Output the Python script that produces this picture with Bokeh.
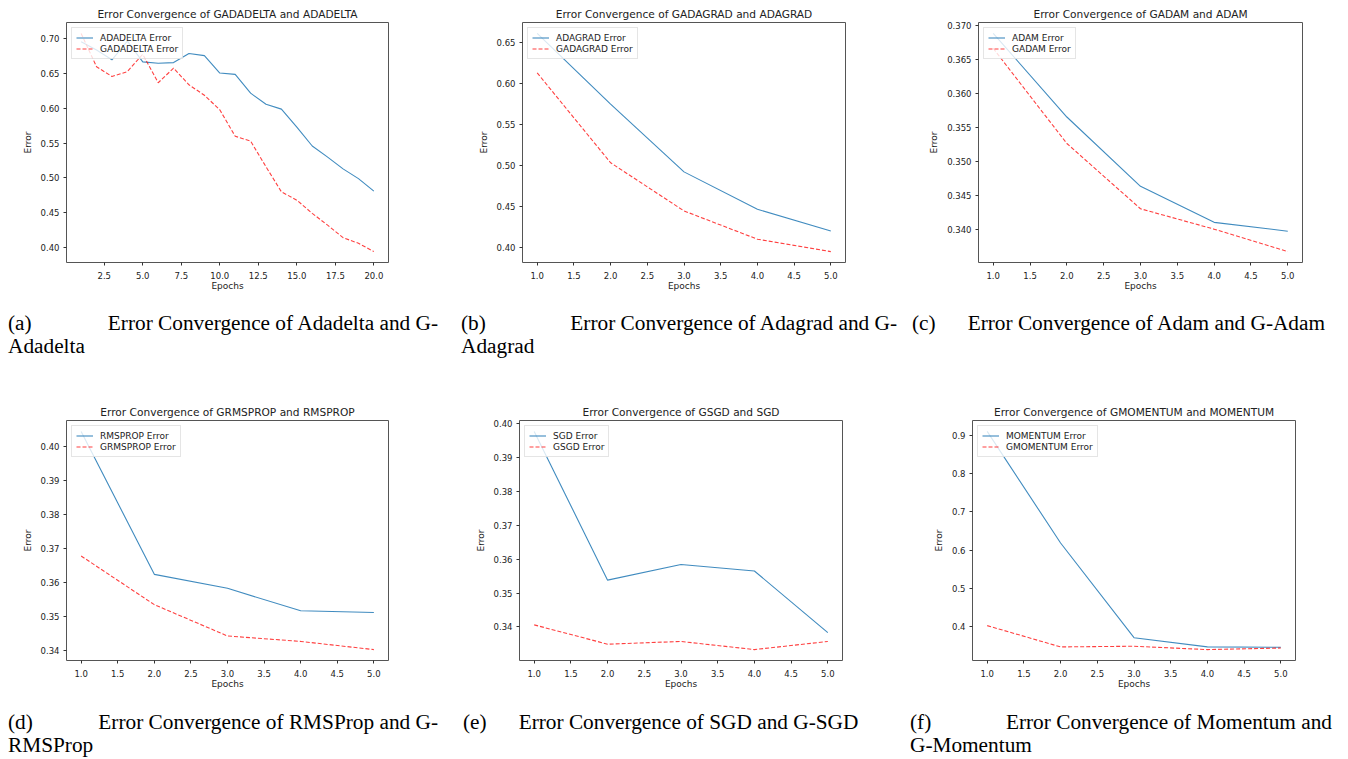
from bokeh.plotting import figure
from bokeh.models import Range1d, FixedTicker, NumeralTickFormatter, Legend, LegendItem, Div
from bokeh.layouts import row, column
from bokeh.embed import file_html
from bokeh.resources import INLINE

# ---------------- data ----------------
epochs_20 = list(range(1, 21))
epochs_5 = [1, 2, 3, 4, 5]

adadelta = [0.696, 0.684, 0.670, 0.697, 0.667, 0.665, 0.666, 0.679, 0.676, 0.651,
            0.649, 0.622, 0.606, 0.599, 0.573, 0.546, 0.530, 0.513, 0.499, 0.481]
gadadelta = [0.708, 0.660, 0.646, 0.653, 0.678, 0.637, 0.658, 0.634, 0.619, 0.598,
             0.560, 0.553, 0.516, 0.480, 0.468, 0.449, 0.432, 0.414, 0.406, 0.394]
adagrad = [0.661, 0.575, 0.4925, 0.447, 0.4205]
gadagrad = [0.613, 0.5036, 0.445, 0.4106, 0.3955]
adam = [0.3688, 0.3565, 0.3463, 0.3410, 0.3397]
gadam = [0.3666, 0.3526, 0.3430, 0.3400, 0.3367]
rmsprop = [0.4045, 0.3625, 0.3584, 0.3518, 0.3513]
grmsprop = [0.3679, 0.3536, 0.3444, 0.3428, 0.3404]
sgd = [0.3977, 0.3538, 0.3584, 0.3565, 0.3383]
gsgd = [0.3406, 0.3349, 0.3357, 0.3333, 0.3357]
momentum = [0.910, 0.619, 0.372, 0.348, 0.347]
gmomentum = [0.4035, 0.348, 0.3497, 0.341, 0.345]

# tick values
xticks_20 = [2.5, 5.0, 7.5, 10.0, 12.5, 15.0, 17.5, 20.0]
xticks_5 = [1.0, 1.5, 2.0, 2.5, 3.0, 3.5, 4.0, 4.5, 5.0]
yticks_a = [0.40, 0.45, 0.50, 0.55, 0.60, 0.65, 0.70]
yticks_b = [0.40, 0.45, 0.50, 0.55, 0.60, 0.65]
yticks_c = [0.340, 0.345, 0.350, 0.355, 0.360, 0.365, 0.370]
yticks_d = [0.34, 0.35, 0.36, 0.37, 0.38, 0.39, 0.40]
yticks_e = [0.34, 0.35, 0.36, 0.37, 0.38, 0.39, 0.40]
yticks_f = [0.4, 0.5, 0.6, 0.7, 0.8, 0.9]

titles = [
    "Error Convergence of GADADELTA and ADADELTA",
    "Error Convergence of GADAGRAD and ADAGRAD",
    "Error Convergence of GADAM and ADAM",
    "Error Convergence of GRMSPROP and RMSPROP",
    "Error Convergence of GSGD and SGD",
    "Error Convergence of GMOMENTUM and MOMENTUM",
]
legend_names = [
    ("ADADELTA Error", "GADADELTA Error"),
    ("ADAGRAD Error", "GADAGRAD Error"),
    ("ADAM Error", "GADAM Error"),
    ("RMSPROP Error", "GRMSPROP Error"),
    ("SGD Error", "GSGD Error"),
    ("MOMENTUM Error", "GMOMENTUM Error"),
]

BLUE = "#1f77b4"
RED = "#ff0000"
TXT = "#222222"
FONT = "DejaVu Sans"


def make_plot(title, x, yb, yr, names, xticks, yticks, xfmt, yfmt, bl, fw, br):
    xmin, xmax = min(x), max(x)
    xm = 0.05 * (xmax - xmin)
    lo = min(min(yb), min(yr))
    hi = max(max(yb), max(yr))
    ym = 0.05 * (hi - lo)
    p = figure(frame_width=fw, frame_height=240,
               min_border_left=bl, min_border_right=br,
               min_border_top=15, min_border_bottom=42,
               x_range=Range1d(xmin - xm, xmax + xm),
               y_range=Range1d(lo - ym, hi + ym),
               output_backend="svg", toolbar_location=None,
               title=title)
    p.title.text_font = FONT
    p.title.text_font_size = "10.6px"
    p.title.text_font_style = "normal"
    p.title.text_color = TXT
    p.title.align = "center"
    p.title.standoff = 5

    p.xgrid.visible = False
    p.ygrid.visible = False
    p.outline_line_color = "#555555"
    p.outline_line_width = 1

    p.xaxis.ticker = FixedTicker(ticks=xticks)
    p.yaxis.ticker = FixedTicker(ticks=yticks)
    p.xaxis.formatter = NumeralTickFormatter(format=xfmt)
    p.yaxis.formatter = NumeralTickFormatter(format=yfmt)
    p.xaxis.axis_label = "Epochs"
    p.yaxis.axis_label = "Error"
    for ax in (p.xaxis, p.yaxis):
        ax.axis_line_color = None
        ax.major_tick_out = 3
        ax.major_tick_in = 0
        ax.minor_tick_line_color = None
        ax.major_tick_line_color = "#333333"
        ax.major_label_text_font = FONT
        ax.major_label_text_font_size = "8.5px"
        ax.major_label_text_color = TXT
        ax.major_label_standoff = 4
        ax.axis_label_text_font = FONT
        ax.axis_label_text_font_size = "9px"
        ax.axis_label_text_font_style = "normal"
        ax.axis_label_text_color = TXT
    p.xaxis.major_label_standoff = 6
    p.xaxis.axis_label_standoff = -1
    p.yaxis.axis_label_standoff = 5

    r1 = p.line(x, yb, line_color=BLUE, line_alpha=0.85, line_width=1.1)
    r2 = p.line(x, yr, line_color=RED, line_alpha=0.75, line_width=1.1, line_dash="4 2")

    leg = Legend(items=[LegendItem(label=names[0], renderers=[r1]),
                        LegendItem(label=names[1], renderers=[r2])],
                 location="top_left")
    leg.margin = 5
    leg.padding = 4
    leg.spacing = 0
    leg.label_height = 11
    leg.glyph_height = 11
    leg.glyph_width = 17
    leg.label_standoff = 7
    leg.label_text_font = FONT
    leg.label_text_font_size = "9px"
    leg.label_text_color = TXT
    leg.border_line_color = "#cccccc"
    leg.border_line_width = 1
    leg.background_fill_alpha = 0.8
    p.add_layout(leg)
    return p


pa = make_plot(titles[0], epochs_20, adadelta, gadadelta, legend_names[0], xticks_20, yticks_a, "0.0", "0.00", 58, 322, 68)
pb = make_plot(titles[1], epochs_5, adagrad, gadagrad, legend_names[1], xticks_5, yticks_b, "0.0", "0.00", 66, 323, 59)
pc = make_plot(titles[2], epochs_5, adam, gadam, legend_names[2], xticks_5, yticks_c, "0.0", "0.000", 74, 324, 38)
pd = make_plot(titles[3], epochs_5, rmsprop, grmsprop, legend_names[3], xticks_5, yticks_d, "0.0", "0.00", 58, 322, 68)
pe = make_plot(titles[4], epochs_5, sgd, gsgd, legend_names[4], xticks_5, yticks_e, "0.0", "0.00", 63, 323, 62)
pf = make_plot(titles[5], epochs_5, momentum, gmomentum, legend_names[5], xticks_5, yticks_f, "0.0", "0.0", 68, 323, 45)


def cap_style(lh):
    return f"font-family:'Liberation Serif';font-size:21.3px;line-height:{lh}px;color:#000;"


def cap_two(label, first, second, pad_left, width, pad_top, lh):
    return (f"<div style=\"{cap_style(lh)}padding:{pad_top}px 0 0 {pad_left}px;\">"
            f"<div style=\"display:flex;justify-content:space-between;width:{width}px;white-space:nowrap;\">"
            f"<span>{label}</span><span>{first}</span></div>"
            f"<div style=\"white-space:nowrap;\">{second}</div></div>")


def cap_one(label, text, pad_left, gap, pad_top, lh):
    return (f"<div style=\"{cap_style(lh)}padding:{pad_top}px 0 0 {pad_left}px;white-space:nowrap;\">"
            f"<span>{label}</span><span style=\"display:inline-block;width:{gap}px\"></span>"
            f"<span>{text}</span></div>")


da = Div(text=cap_two("(a)", "Error Convergence of Adadelta and G-", "Adadelta", 0, 430, 8, 23),
         width=448, height=97, margin=0)
db = Div(text=cap_two("(b)", "Error Convergence of Adagrad and G-", "Adagrad", 5, 436, 8, 23),
         width=448, height=97, margin=0)
dc = Div(text=cap_one("(c)", "Error Convergence of Adam and G-Adam", 8, 32, 8, 23),
         width=436, height=97, margin=0)
dd = Div(text=cap_two("(d)", "Error Convergence of RMSProp and G-", "RMSProp", 0, 430, 9, 23),
         width=448, height=55, margin=0)
de = Div(text=cap_one("(e)", "Error Convergence of SGD and G-SGD", 7, 32, 9, 23),
         width=448, height=55, margin=0)
df = Div(text=cap_two("(f)", "Error Convergence of Momentum and", "G-Momentum", 6, 422, 9, 23),
         width=436, height=55, margin=0)

layout = column(row(pa, pb, pc), row(da, db, dc), row(pd, pe, pf), row(dd, de, df),
                margin=(3, 0, 0, 8))

with open("out.html", "w") as f:
    f.write(file_html(layout, INLINE))
